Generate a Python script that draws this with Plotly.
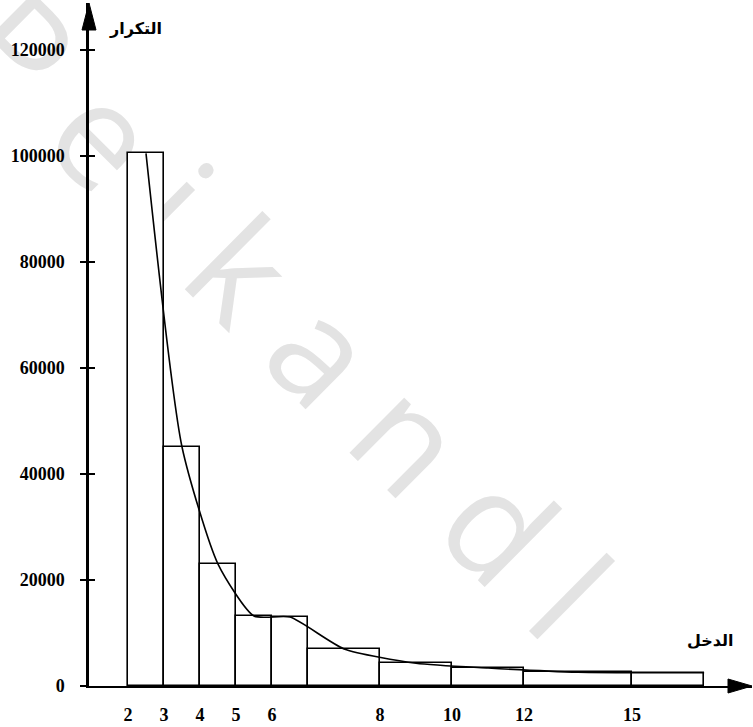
import numpy as np
import plotly.graph_objects as go

# ---- data ----
edge_pos = [2, 3, 4, 5, 6, 7, 9, 11, 13, 16, 18]          # drawn class edges on the income ruler
freq = [100500, 45100, 23000, 13200, 13000, 7000, 4300, 3400, 2600, 2500]
x_tick_pos = [2, 3, 4, 5, 6, 9, 11, 13, 16]
x_tick_text = ["2", "3", "4", "5", "6", "8", "10", "12", "15"]
y_tick_vals = [0, 20000, 40000, 60000, 80000, 100000, 120000]
x_title = "الدخل"
y_title = "التكرار"
watermark = "P e i k a n d l"

X_RANGE = [0.917, 19.33]
Y_RANGE = [0, 128870]

left = np.array(edge_pos[:-1], dtype=float)
right = np.array(edge_pos[1:], dtype=float)
mid = (left + right) / 2
width = right - left

fig = go.Figure()
fig.add_trace(go.Bar(
    x=mid, y=freq, width=width,
    marker=dict(color="white", line=dict(color="black", width=1.6)),
    showlegend=False, hoverinfo="skip",
))
curve_x = list(mid) + [edge_pos[-1]]
curve_y = list(freq) + [freq[-1]]
fig.add_trace(go.Scatter(
    x=curve_x, y=curve_y, mode="lines",
    line=dict(color="black", width=1.6, shape="spline", smoothing=0.6),
    showlegend=False, hoverinfo="skip",
))
# helper trace so the second (inside-tick) y axis is drawn
fig.add_trace(go.Scatter(x=[None], y=[None], yaxis="y2", showlegend=False))

tickfont = dict(family="Liberation Serif", size=18, color="black", weight="bold")

fig.update_layout(
    width=753, height=727,
    margin=dict(l=89, r=1, t=3, b=41),
    paper_bgcolor="white", plot_bgcolor="white",
    bargap=0,
    xaxis=dict(
        range=X_RANGE, showgrid=False, zeroline=False,
        showline=True, linecolor="black", linewidth=2,
        tickmode="array", tickvals=x_tick_pos, ticktext=x_tick_text,
        ticks="", tickfont=tickfont, ticklabelstandoff=11,
    ),
    yaxis=dict(
        range=Y_RANGE, showgrid=False, zeroline=False,
        showline=True, linecolor="black", linewidth=2.5,
        tickmode="array", tickvals=y_tick_vals,
        ticktext=[str(v) for v in y_tick_vals],
        ticks="outside", ticklen=6, tickwidth=1.5, tickcolor="black",
        tickfont=tickfont, ticklabelstandoff=12,
    ),
    yaxis2=dict(
        range=Y_RANGE, overlaying="y", side="left", showgrid=False,
        zeroline=False, showline=False,
        tickmode="array", tickvals=y_tick_vals,
        ticks="inside", ticklen=6, tickwidth=1.5, tickcolor="black",
        showticklabels=False,
    ),
    shapes=[
        # watermark (behind the chart)
        dict(type="line", xref="paper", yref="paper",
             x0=-0.1418, y0=0.953, x1=0.721, y1=0.1214,
             line=dict(color="rgba(0,0,0,0)", width=0), layer="below",
             label=dict(text=watermark, textposition="middle", yanchor="middle",
                        font=dict(family="Open Sans", size=145, color="#e3e3e3"))),
        # arrowheads of the axes
        dict(type="path", xref="paper", yref="paper", xsizemode="pixel", ysizemode="pixel",
             xanchor=1, yanchor=0,
             path="M 0 0 L -24 -7 L -24 7 Z",
             fillcolor="black", line=dict(color="black", width=1)),
        dict(type="path", xref="paper", yref="paper", xsizemode="pixel", ysizemode="pixel",
             xanchor=0, yanchor=1,
             path="M 0 0 L -7 -27 L 7 -27 Z",
             fillcolor="black", line=dict(color="black", width=1)),
    ],
    annotations=[
        dict(text=y_title, xref="paper", yref="paper", x=(135 - 89) / 663, y=(686 - 28) / 683,
             showarrow=False, xanchor="center", yanchor="middle",
             font=dict(family="DejaVu Sans", size=16, color="black", weight="bold")),
        dict(text=x_title, xref="paper", yref="paper", x=(710 - 89) / 663, y=(686 - 640) / 683,
             showarrow=False, xanchor="center", yanchor="middle",
             font=dict(family="DejaVu Sans", size=16, color="black", weight="bold")),
    ],
)

fig.write_html("out.html")
